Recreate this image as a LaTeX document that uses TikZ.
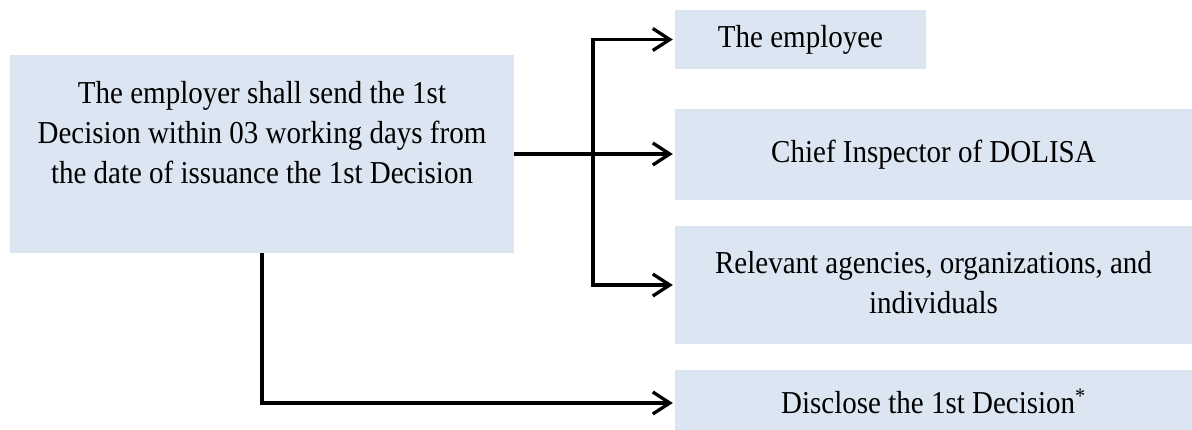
\documentclass[tikz,border=0pt]{standalone}
\usepackage{fontspec}
\setmainfont{Liberation Serif}
\usetikzlibrary{arrows.meta}
\definecolor{boxblue}{HTML}{DCE6F2}
\newcommand\tl[1]{\scalebox{1}[1.1]{#1}}
\begin{document}
\begin{tikzpicture}[x=1pt,y=-1pt,
  box/.style={fill=boxblue, draw=none, rectangle, inner sep=0pt},
  txt/.style={align=center, inner sep=0pt, font=\fontsize{29}{40}\selectfont},
  conn/.style={line width=3.3pt, black},
  arr/.style={conn, -{Straight Barb[length=17pt, width=22pt]}, shorten >=2pt}]
\useasboundingbox (0,0) rectangle (1192,430);
% boxes
\node[box, minimum width=504pt, minimum height=198pt] (main) at (262,154) {};
\node[txt] (maintext) at (262,133) {\tl{The employer shall send the 1st}\\\tl{Decision within 03 working days from}\\\tl{the date of issuance the 1st Decision}};
\node[box, minimum width=251pt, minimum height=59pt] (emp) at (800.5,39.5) {};
\node[txt] at (emp.center) {\tl{The employee}};
\node[box, minimum width=540pt, minimum height=91pt] (chief) at (945,155) {};
\node[txt] at (933.5,155) {\tl{Chief Inspector of DOLISA}};
\node[box, minimum width=540pt, minimum height=118pt] (rel) at (945,285) {};
\node[txt] at (933.5,283) {\tl{Relevant agencies, organizations, and}\\\tl{individuals}};
\node[box, minimum width=540pt, minimum height=66pt] (disc) at (945,403) {};
\node[txt] at (933.5,401) {\tl{Disclose the 1st Decision\textsuperscript{*}}};
% connectors
\coordinate (jt) at (593,39.5);
\coordinate (jb) at (593,285);
\draw[conn] (main.east |- 0,154) -- (jt |- 0,154);
\draw[arr] (main.east |- 0,154) -- (chief.west |- 0,154);
\draw[conn, line cap=rect] (jt) -- (jb);
\draw[arr] (jt) -- (emp.west);
\draw[arr] (jb) -- (rel.west);
\draw[arr] (main.south) |- (disc.west);
\end{tikzpicture}
\end{document}
